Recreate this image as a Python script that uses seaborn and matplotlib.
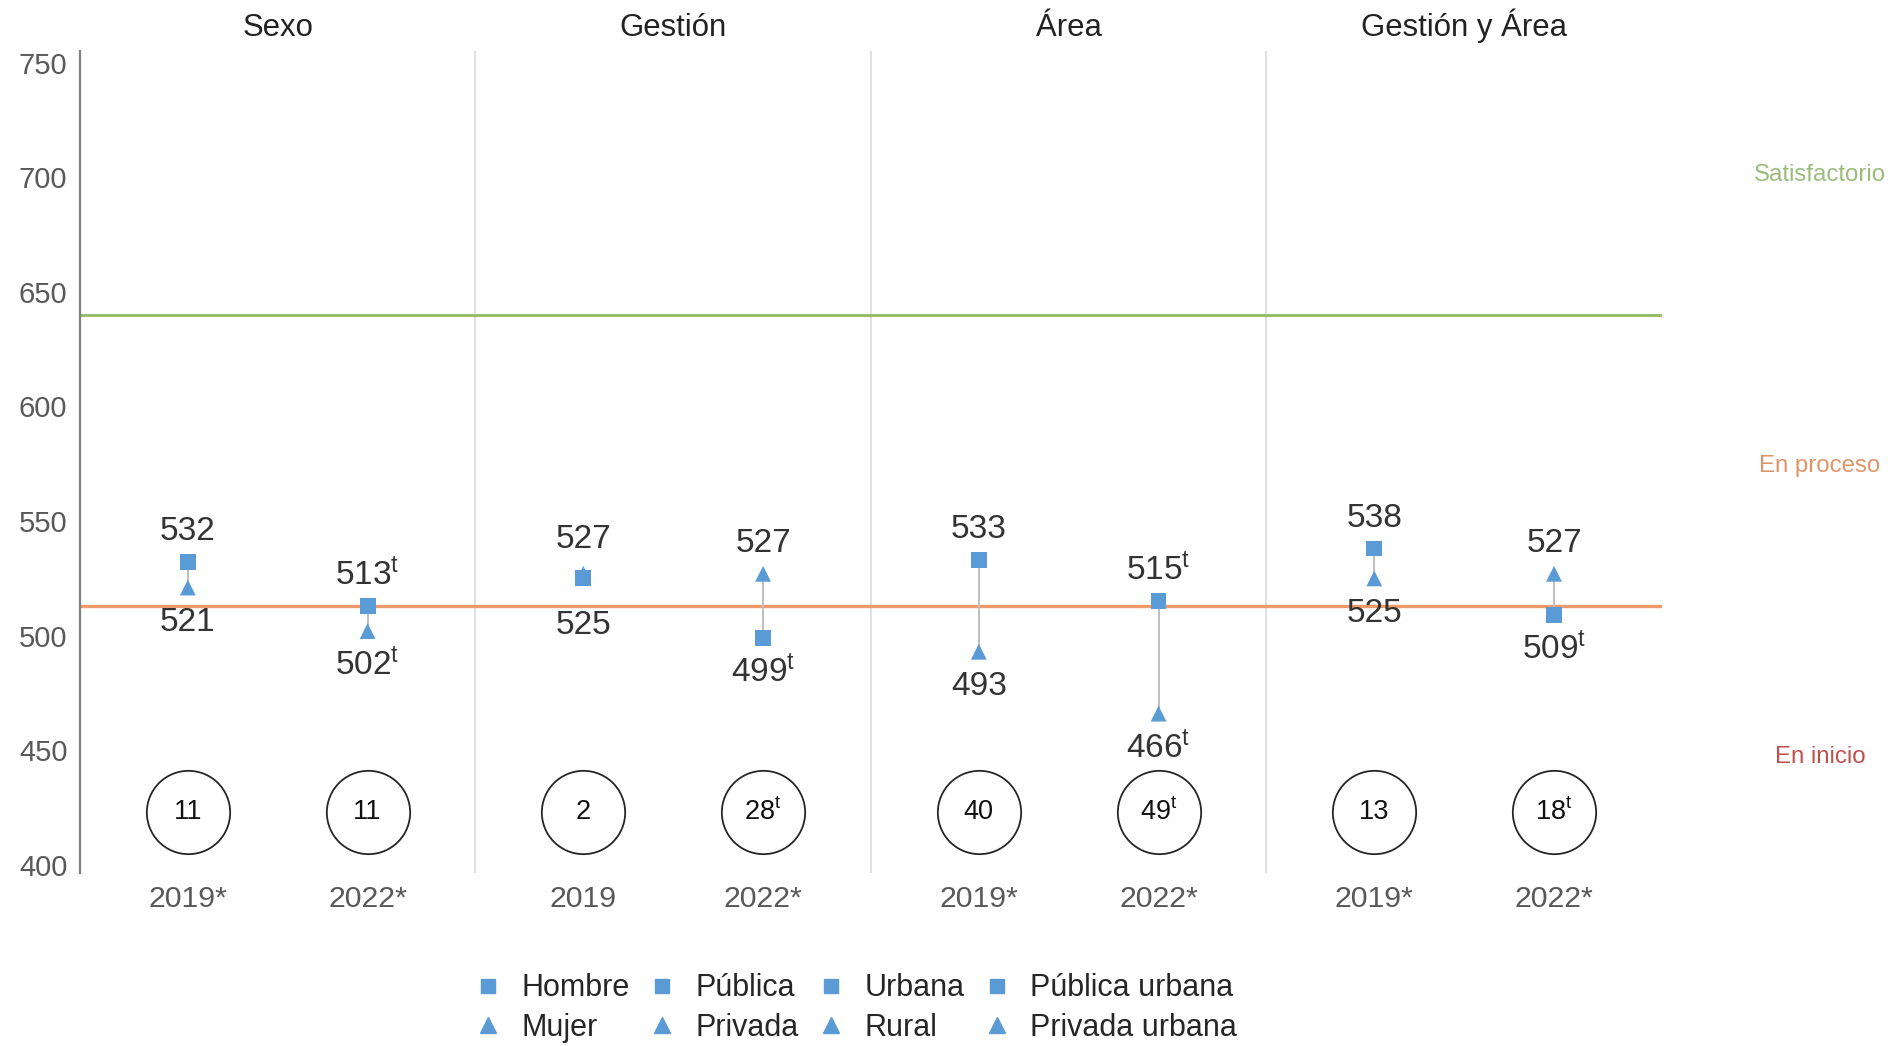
import matplotlib
matplotlib.use("Agg")
import matplotlib.pyplot as plt
from matplotlib.lines import Line2D
from matplotlib import transforms
import seaborn as sns
import pandas as pd

# ---------------- data ----------------
groups = ["Sexo", "Gestión", "Área", "Gestión y Área"]
year_labels = ["2019*", "2022*", "2019", "2022*", "2019*", "2022*", "2019*", "2022*"]
square_names = ["Hombre", "Pública", "Urbana", "Pública urbana"]
triangle_names = ["Mujer", "Privada", "Rural", "Privada urbana"]
square_vals = [532, 513, 525, 499, 533, 515, 538, 509]
triangle_vals = [521, 502, 527, 527, 493, 466, 525, 527]
square_sig = [False, True, False, True, False, True, False, True]
triangle_sig = [False, True, False, False, False, True, False, False]
gap_vals = [11, 11, 2, 28, 40, 49, 13, 18]
gap_sig = [False, False, False, True, False, True, False, True]
level_names = ["Satisfactorio", "En proceso", "En inicio"]
level_y = [701, 574, 447]
thresholds = [640, 513]

# ---------------- style ----------------
sns.set_style("white")
plt.rcParams["font.family"] = ["Liberation Sans", "DejaVu Sans"]
plt.rcParams["mathtext.fontset"] = "custom"
plt.rcParams["mathtext.rm"] = "Liberation Sans"
plt.rcParams["mathtext.it"] = "Liberation Sans"

BLUE = "#5B9BD5"
GRAY_TXT = "#595959"
DARK = "#262626"
GREEN = "#92B964"
ORANGE = "#EE9A6A"
level_colors = ["#9BBB7A", "#E0946A", "#C0504D"]

# positions: 4 panels of width 11, points at 3 and 8 within each
xpos = []
for i in range(len(groups)):
    xpos += [11 * i + 3, 11 * i + 8]

rows = []
for k, x in enumerate(xpos):
    rows.append({"x": x, "score": square_vals[k], "tipo": "cuadrado"})
    rows.append({"x": x, "score": triangle_vals[k], "tipo": "triangulo"})
df = pd.DataFrame(rows)

fig = plt.figure(figsize=(18.95, 10.46), dpi=100)
ax = fig.add_axes([0.0422, 0.1654, 0.8348, 0.7858])

# threshold lines
ax.axhline(thresholds[0], color=GREEN, lw=2.0, zorder=1)
ax.axhline(thresholds[1], color=ORANGE, lw=2.4, zorder=1)

# panel separators
for i in range(1, len(groups)):
    ax.axvline(11 * i, color="#DCDCDC", lw=1.2, zorder=0)

# connectors
ax.vlines(xpos, [min(a, b) for a, b in zip(square_vals, triangle_vals)],
          [max(a, b) for a, b in zip(square_vals, triangle_vals)],
          color="#BFBFBF", lw=1.4, zorder=2)

sns.scatterplot(data=df, x="x", y="score", style="tipo",
                markers={"cuadrado": "s", "triangulo": "^"},
                color=BLUE, s=130, edgecolor="none", linewidth=0,
                legend=False, ax=ax, zorder=3)

def fmt(v, sig):
    return f"{v}$^{{\\mathrm{{t}}}}$" if sig else f"{v}"

# value labels
for k, x in enumerate(xpos):
    sv, tv = square_vals[k], triangle_vals[k]
    s_lab = fmt(sv, square_sig[k])
    t_lab = fmt(tv, triangle_sig[k])
    if sv >= tv:
        hi, lo = (sv, s_lab), (tv, t_lab)
    else:
        hi, lo = (tv, t_lab), (sv, s_lab)
    close = abs(hi[0] - lo[0]) < 4
    up = 25 if close else 22
    dn = -34 if close else -25
    ax.annotate(hi[1], (x, hi[0]), xytext=(0, up), textcoords="offset points",
                ha="center", va="center", fontsize=24, color="#333333")
    ax.annotate(lo[1], (x, lo[0]), xytext=(0, dn), textcoords="offset points",
                ha="center", va="center", fontsize=24, color="#333333")

# gap circles
circle_y = [423] * len(xpos)
ax.scatter(xpos, circle_y, s=3600, facecolor="white", edgecolor=DARK, lw=1.3, zorder=3)
for k, x in enumerate(xpos):
    ax.text(x, 423, fmt(gap_vals[k], gap_sig[k]), ha="center", va="center",
            fontsize=19.5, color="#111111", zorder=4)

# level labels on the right
for name, yv, c in zip(level_names, level_y, level_colors):
    ax.text(48.4, yv, name, ha="center", va="center", fontsize=17.3,
            color=c, clip_on=False)

# panel titles
trans = transforms.blended_transform_factory(ax.transData, ax.transAxes)
for i, g in enumerate(groups):
    ax.text(11 * i + 5.5, 1.018, g, transform=trans, ha="center", va="baseline",
            fontsize=22.4, color="#222222")

ax.set_xlim(0, 44)
ax.set_ylim(396.5, 755)
ax.set_yticks(range(400, 751, 50))
ax.set_xticks(xpos)
ax.set_xticklabels(year_labels)
ax.set_xlabel("")
ax.set_ylabel("")
ax.tick_params(axis="both", length=0, colors=GRAY_TXT)
ax.tick_params(axis="x", pad=9, labelsize=21.8)
ax.tick_params(axis="y", pad=9, labelsize=21)
for side in ["top", "right", "bottom"]:
    ax.spines[side].set_visible(False)
ax.spines["left"].set_color("#7F7F7F")
ax.spines["left"].set_linewidth(1.6)

# legend
handles = []
for sq, tr in zip(square_names, triangle_names):
    handles.append(Line2D([], [], ls="none", marker="s", color=BLUE, markersize=10, label=sq))
    handles.append(Line2D([], [], ls="none", marker="^", color=BLUE, markersize=11, label=tr))
fig.legend(handles=handles, ncol=4, loc="center", bbox_to_anchor=(855 / 1895, 1 - 1008 / 1046),
           frameon=False, fontsize=22, handlelength=1.0, handletextpad=0.6,
           columnspacing=0.55, labelspacing=0.3, borderpad=0)

fig.savefig("out.png", dpi=100, facecolor="white")
